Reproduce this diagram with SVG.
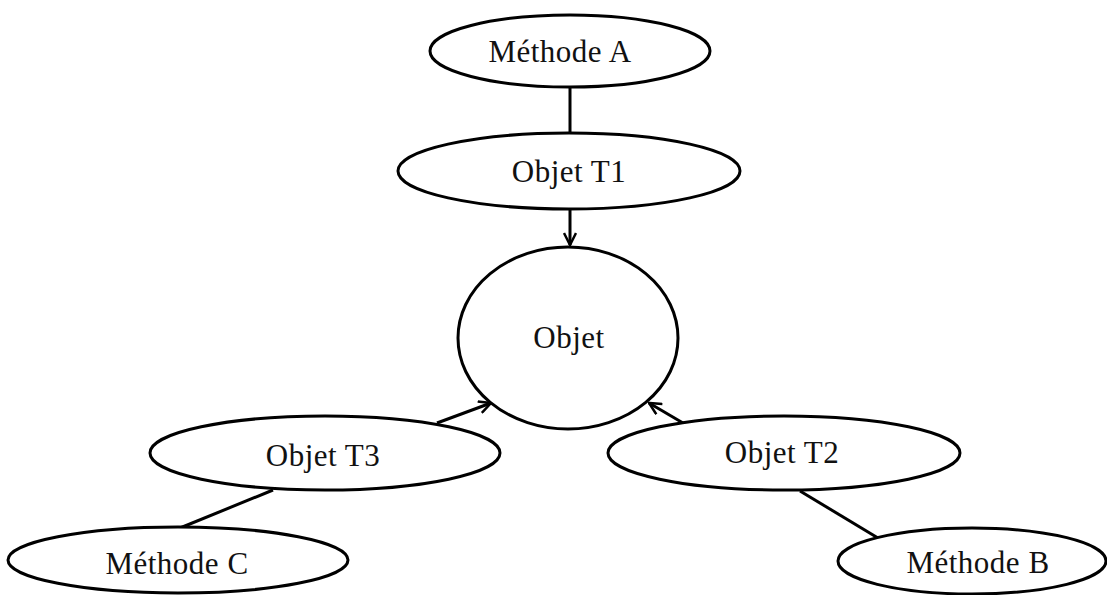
<svg xmlns="http://www.w3.org/2000/svg" width="1107" height="595" viewBox="0 0 1107 595">
<style>
.n{fill:#fff;stroke:#000;stroke-width:3}
.t{font-family:"Liberation Serif","DejaVu Serif",serif;font-size:31px;fill:#111;text-anchor:middle;letter-spacing:0.5px}
.c{fill:none;stroke:#000;stroke-width:3}
</style>
<defs>
<marker id="arr" viewBox="0 0 14 14" refX="13" refY="7" markerWidth="14" markerHeight="14" markerUnits="userSpaceOnUse" orient="auto">
<path d="M1,1 L13,7 L1,13" fill="none" stroke="#000" stroke-width="2.5"/>
</marker>
</defs>
<rect width="1107" height="595" fill="#fff"/>
<g id="connectors">
<line class="c" x1="570" y1="87" x2="570" y2="133"/>
<line class="c" x1="570" y1="209" x2="570" y2="245" marker-end="url(#arr)"/>
<line class="c" x1="437" y1="423" x2="491" y2="403" marker-end="url(#arr)"/>
<line class="c" x1="683" y1="423" x2="649" y2="403" marker-end="url(#arr)"/>
<line class="c" x1="273" y1="490" x2="180" y2="528"/>
<line class="c" x1="800" y1="491" x2="878" y2="538"/>
</g>
<g id="methodeA"><ellipse class="n" cx="570" cy="51" rx="140" ry="36"/><text class="t" x="560" y="62">Méthode A</text></g>
<g id="objetT1"><ellipse class="n" cx="569" cy="171" rx="171" ry="38"/><text class="t" x="569" y="182">Objet T1</text></g>
<g id="objet"><ellipse class="n" cx="568" cy="338" rx="110" ry="91"/><text class="t" x="569" y="348">Objet</text></g>
<g id="objetT3"><ellipse class="n" cx="325" cy="453" rx="175" ry="37"/><text class="t" x="323" y="466">Objet T3</text></g>
<g id="objetT2"><ellipse class="n" cx="784" cy="453" rx="176" ry="37"/><text class="t" x="782" y="463">Objet T2</text></g>
<g id="methodeC"><ellipse class="n" cx="178" cy="560" rx="170" ry="33"/><text class="t" x="177" y="574">Méthode C</text></g>
<g id="methodeB"><ellipse class="n" cx="972" cy="561" rx="134" ry="33"/><text class="t" x="978" y="573">Méthode B</text></g>
</svg>
